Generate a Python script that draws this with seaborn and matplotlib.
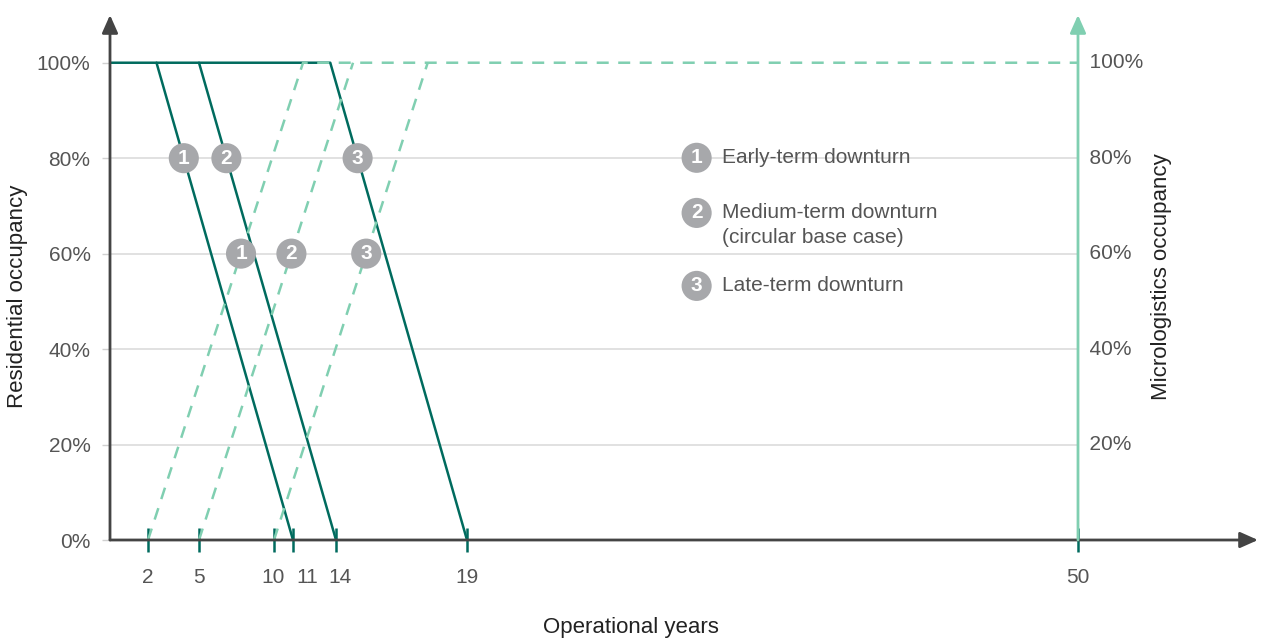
import numpy as np
import seaborn as sns
import matplotlib.pyplot as plt
from matplotlib.transforms import ScaledTranslation

# Escala esquematica del eje x: años -> posicion (el grafico original no es lineal)
KNOT_YEARS = [0, 2, 5, 10, 11, 14, 19, 50, 59.1]
KNOT_POS = [110, 148, 199, 274, 293, 336, 467, 1078, 1258]

tick_years = [2, 5, 10, 11, 14, 19, 50]
pct_ticks = [0, 20, 40, 60, 80, 100]
right_ticks = [20, 40, 60, 80, 100]

# Ocupacion residencial (lineas solidas): inicio de la caida y fin a 0%
res_start = [2.5, 5, 13.6]
res_end = [11, 14, 19]
# Ocupacion micrologistica (lineas discontinuas): inicio a 0% y llegada a 100%
micro_start = [2, 5, 10]
micro_end = [11.7, 14.65, 17.5]
horizon = 50

scenarios = ["1", "2", "3"]
legend_labels = [["Early-term downturn"],
                 ["Medium-term downturn", "(circular base case)"],
                 ["Late-term downturn"]]

DARK = "#006b5e"
LIGHT = "#80cfb1"
GREY_TXT = "#555555"
BADGE = "#a7a8ab"
AXIS = "#444444"


def fwd(x):
    return np.interp(x, KNOT_YEARS, KNOT_POS)


def inv(p):
    return np.interp(p, KNOT_POS, KNOT_YEARS)


def point_on(x0, y0, x1, y1, y):
    # punto sobre la recta dibujada (recta en espacio de pantalla)
    t = (y - y0) / (y1 - y0)
    return inv(fwd(x0) + t * (fwd(x1) - fwd(x0)))


sns.set_theme(style="white")
plt.rcParams['font.family'] = ['Liberation Sans', 'DejaVu Sans']

fig = plt.figure(figsize=(12.61, 6.39), dpi=100)
W, H = 1261, 639
ax = fig.add_axes([110 / W, (H - 540) / H, (1258 - 110) / W, 525 / H])
ax.set_xscale('function', functions=(fwd, inv))
ax.set_xlim(0, 59.1)
ax.set_ylim(0, 110)

# rejilla
ax.hlines([20, 40, 60, 80], 0, horizon, color="#d9d9d9", lw=1.1, zorder=1)

# lineas solidas (residencial)
for i in range(3):
    if i == 2:
        xs = [0, res_start[i], res_end[i]]
        ys = [100, 100, 0]
    else:
        xs = [res_start[i], res_end[i]]
        ys = [100, 0]
    sns.lineplot(x=xs, y=ys, sort=False, estimator=None, color=DARK, lw=1.8, ax=ax, zorder=3)

# lineas discontinuas (micrologistica)
for i in range(3):
    if i == 0:
        xs = [micro_start[i], micro_end[i], horizon]
        ys = [0, 100, 100]
    else:
        xs = [micro_start[i], micro_end[i]]
        ys = [0, 100]
    sns.lineplot(x=xs, y=ys, sort=False, estimator=None, color=LIGHT, lw=1.8,
                 linestyle=(0, (4.8, 3.8)), ax=ax, zorder=4)

# marcadores numerados
bx, by = [], []
for i in range(3):
    bx.append(point_on(res_start[i], 100, res_end[i], 0, 80))
    by.append(80)
    bx.append(point_on(micro_start[i], 0, micro_end[i], 100, 60))
    by.append(60)
labels = [s for s in scenarios for _ in range(2)]
ax.scatter(bx, by, s=470, color=BADGE, edgecolor="none", zorder=6)
for x, y, s in zip(bx, by, labels):
    ax.text(x, y, s, ha="center", va="center", color="white", fontsize=15,
            fontweight="bold", zorder=7)

# leyenda
leg_y = [0.728, 0.623, 0.484]
line_gap = 25 / 525
for s, lab, y in zip(scenarios, legend_labels, leg_y):
    ax.scatter([0.511], [y], s=470, color=BADGE, edgecolor="none",
               transform=ax.transAxes, zorder=6, clip_on=False)
    ax.text(0.511, y, s, ha="center", va="center", color="white", fontsize=15,
            fontweight="bold", transform=ax.transAxes, zorder=7)
    for k, line in enumerate(lab):
        ax.text(0.533, y - k * line_gap, line, ha="left", va="center",
                color=GREY_TXT, fontsize=15, transform=ax.transAxes)

# ejes con flechas
for sp in ax.spines.values():
    sp.set_visible(False)
arrow = "-|>,head_length=0.9,head_width=0.4"
ax.annotate("", xy=(0, 1), xytext=(0, 0), xycoords="axes fraction",
            arrowprops=dict(arrowstyle=arrow, color=AXIS, lw=2, shrinkA=0, shrinkB=0), zorder=5)
ax.annotate("", xy=(1, 0), xytext=(0, 0), xycoords="axes fraction",
            arrowprops=dict(arrowstyle=arrow, color=AXIS, lw=2, shrinkA=0, shrinkB=0), zorder=5)
ax.annotate("", xy=(horizon, 110), xytext=(horizon, 0), xycoords="data",
            arrowprops=dict(arrowstyle=arrow, color=LIGHT, lw=2, shrinkA=0, shrinkB=0), zorder=5)

# ticks
ax.set_xticks(tick_years)
ax.set_xticklabels([str(t) for t in tick_years])
ax.tick_params(axis="x", direction="inout", length=17, width=1.8, color=DARK,
               labelsize=15, labelcolor=GREY_TXT, pad=12, bottom=True)
# pequeños desplazamientos para que 10, 11 y 14 no se monten
nudge = {11: 14, 14: 4, 10: -1}
for t, lbl in zip(tick_years, ax.get_xticklabels()):
    if t in nudge:
        lbl.set_transform(lbl.get_transform() + ScaledTranslation(nudge[t] / 100, 0, fig.dpi_scale_trans))
ax.set_yticks(pct_ticks)
ax.set_yticklabels([f"{t}%" for t in pct_ticks])
ax.tick_params(axis="y", direction="out", length=6, width=1, color="#d0d0d0",
               labelsize=15, labelcolor=GREY_TXT, pad=8, left=True)
for t in right_ticks:
    ax.text(horizon, t, f"  {t}%", ha="left", va="center", color=GREY_TXT, fontsize=15)

fig.text(631 / W, 1 - 628 / H, "Operational years", ha="center", va="center",
         fontsize=16, color="#222222")
fig.text(18 / W, 1 - 296 / H, "Residential occupancy", ha="center", va="center",
         rotation=90, fontsize=16, color="#222222")
fig.text(1162 / W, 1 - 277 / H, "Micrologistics occupancy", ha="center", va="center",
         rotation=90, fontsize=16, color="#222222")

fig.savefig("out.png", dpi=100, facecolor="white")
